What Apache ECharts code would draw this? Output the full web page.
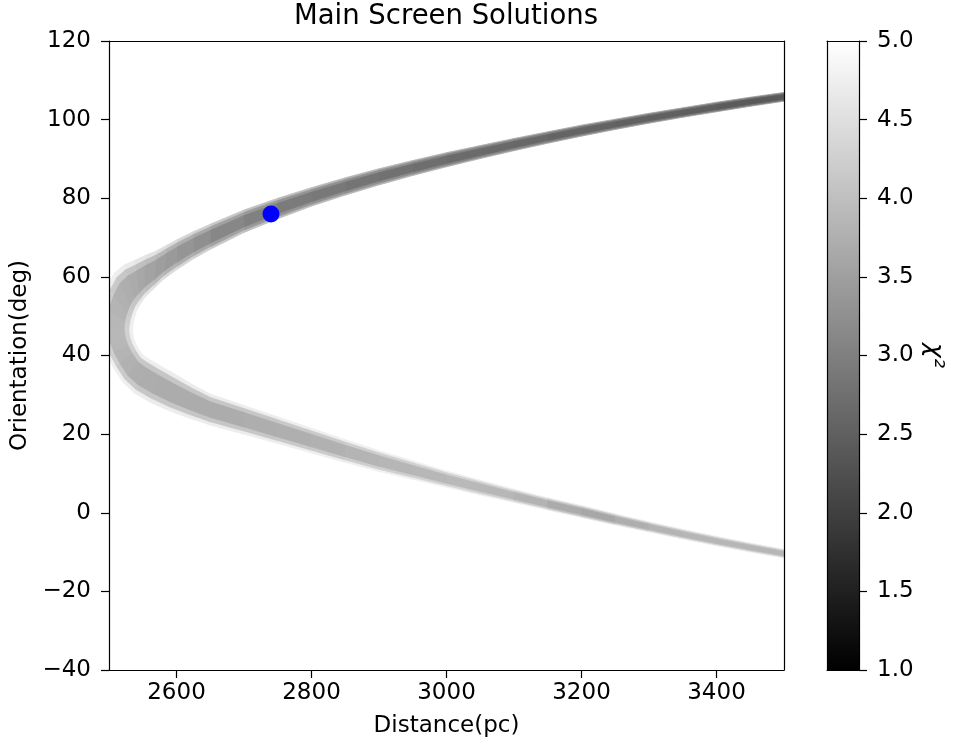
<!DOCTYPE html>
<html><head><meta charset="utf-8">
<script src="https://cdn.jsdelivr.net/npm/echarts@6/dist/echarts.min.js"></script>
<style>html,body{margin:0;padding:0;background:#fff}#c{width:953px;height:749px}</style>
</head><body><div id="c"></div>
<script>
// ---- data ----
const titleText = 'Main Screen Solutions';
const xName = 'Distance(pc)';
const yName = 'Orientation(deg)';
const cbName = 'χ²';
const xRange = [2500, 3500];
const yRange = [-40, 120];
const yStep = 20;
const xTickValues = [2600, 2800, 3000, 3200, 3400];
const cbRange = [1, 5];
const cbStep = 0.5;
const bestFit = [2740, 76];

// cross-sections of the chi^2 < 5 band, from the upper-right end, round the vertex, to the lower-right end
const outerDist = [3500,3450,3400,3350,3300,3250,3200,3150,3100,3050,3000,2950,2900,2850,2800,2750,2700,2650,
  2625,2600,2585,2570,2553,2538,2522,2508,2497,2488,2484,2488,2497,2507,2520,2537,2560,2587,2615,
  2650,2700,2750,2800,2850,2900,2950,3000,3050,3100,3150,3200,3250,3300,3350,3400,3450,3500];
const outerOrient = [106.9,105.7,104.4,103.0,101.6,100.1,98.6,96.9,95.2,93.4,91.6,89.6,87.5,85.2,82.7,80.0,77.0,73.4,
  71.5,69.4,68.0,66.6,65.4,64.2,63.0,61.0,57.5,53.0,48.5,44.0,40.0,36.8,33.3,30.5,28.2,26.1,24.3,
  22.3,20.0,17.6,15.2,12.8,10.5,8.5,6.5,4.5,2.6,0.7,-1.2,-3.1,-4.9,-6.7,-8.4,-10.0,-11.5];
const innerDist = [3500,3450,3400,3350,3300,3250,3200,3150,3100,3050,3000,2950,2900,2850,2800,2750,2700,2650,
  2625,2600,2580,2565,2553,2546,2541,2538,2536,2535,2535,2536,2539,2544,2551,2562,2580,2605,2625,
  2650,2700,2750,2800,2850,2900,2950,3000,3050,3100,3150,3200,3250,3300,3350,3400,3450,3500];
const innerOrient = [104.7,103.4,102.0,100.6,99.1,97.5,95.8,94.0,92.1,90.1,88.0,85.8,83.4,80.8,78.0,74.8,71.3,67.0,
  64.6,61.8,59.3,56.8,54.8,53.0,51.4,49.8,48.3,47.0,46.0,44.8,43.2,41.6,40.0,38.8,37.0,34.5,32.5,
  30.2,27.3,24.4,21.5,18.6,15.8,13.2,10.6,8.3,6.0,3.8,1.8,-0.3,-2.3,-4.2,-6.0,-7.7,-9.3];
const chi2Core = [2.4,2.4,2.45,2.5,2.5,2.55,2.55,2.6,2.65,2.65,2.7,2.75,2.8,2.85,2.9,2.95,3.05,3.2,
  3.28,3.38,3.45,3.52,3.58,3.65,3.7,3.75,3.8,3.85,3.88,3.88,3.85,3.8,3.75,3.72,3.7,3.7,3.7,
  3.7,3.7,3.75,3.75,3.8,3.85,3.85,3.9,3.9,3.85,3.75,3.6,3.65,3.8,3.85,3.85,3.85,3.85];

// ---- build segments ----
const segments = [];
for (let i = 0; i < outerDist.length - 1; i++) {
  segments.push([outerDist[i], outerOrient[i], innerDist[i], innerOrient[i],
    outerDist[i+1], outerOrient[i+1], innerDist[i+1], innerOrient[i+1],
    (chi2Core[i] + chi2Core[i+1]) / 2]);
}

function grayOf(v) {
  const t = Math.max(0, Math.min(1, (v - cbRange[0]) / (cbRange[1] - cbRange[0])));
  const g = Math.round(255 * t);
  return 'rgb(' + g + ',' + g + ',' + g + ')';
}

function bandLayer(frac, add, cap) {
  return {
    type: 'custom', xAxisIndex: 0, yAxisIndex: 0, clip: true, silent: true,
    encode: { x: [0, 2, 4, 6], y: [1, 3, 5, 7] },
    data: segments,
    renderItem: function (params, api) {
      const o1 = api.coord([api.value(0), api.value(1)]);
      const i1 = api.coord([api.value(2), api.value(3)]);
      const o2 = api.coord([api.value(4), api.value(5)]);
      const i2 = api.coord([api.value(6), api.value(7)]);
      const chi = Math.min(cap, api.value(8) + add);
      function sh(o, i) {
        const m = [(o[0] + i[0]) / 2, (o[1] + i[1]) / 2];
        return [[m[0] + (o[0] - m[0]) * frac, m[1] + (o[1] - m[1]) * frac],
                [m[0] + (i[0] - m[0]) * frac, m[1] + (i[1] - m[1]) * frac]];
      }
      const a = sh(o1, i1), b = sh(o2, i2);
      const c = grayOf(chi);
      return {
        type: 'polygon',
        shape: { points: [a[0], b[0], b[1], a[1]] },
        style: { fill: c, stroke: c, lineWidth: 0.8 }
      };
    }
  };
}

const FONT = 'DejaVu Sans';
const fs = 23;
const axisCol = '#000';
const chart = echarts.init(document.getElementById('c'), null, { renderer: 'canvas' });

const plainAxis = (gi, pos, min, max) => ({
  gridIndex: gi, type: 'value', position: pos, min: min, max: max, z: 10,
  axisLine: { show: true, onZero: false, lineStyle: { color: axisCol, width: 1.2 } },
  axisTick: { show: false }, axisLabel: { show: false }, splitLine: { show: false }
});

chart.setOption({
  animation: false,
  backgroundColor: '#fff',
  grid: [
    { left: 109, top: 41, width: 675, height: 629 },
    { left: 827, top: 41, width: 32, height: 629 }
  ],
  graphic: [{
    type: 'text', x: 446, y: 17,
    style: { text: titleText, font: '27.5px "' + FONT + '"', fill: '#000', textAlign: 'center', textVerticalAlign: 'middle' }
  }],
  xAxis: [
    {
      gridIndex: 0, type: 'value', position: 'bottom', min: xRange[0], max: xRange[1], z: 10,
      axisLine: { show: true, onZero: false, lineStyle: { color: axisCol, width: 1.2 } },
      axisTick: { show: true, inside: false, length: 8, customValues: xTickValues, lineStyle: { color: axisCol, width: 1.2 } },
      axisLabel: { show: true, customValues: xTickValues, margin: 12, color: '#000', fontFamily: FONT, fontSize: fs,
        formatter: v => String(v) },
      splitLine: { show: false },
      name: xName, nameLocation: 'middle', nameGap: 45,
      nameTextStyle: { color: '#000', fontFamily: FONT, fontSize: fs }
    },
    plainAxis(0, 'top', xRange[0], xRange[1]),
    plainAxis(1, 'bottom', 0, 1),
    plainAxis(1, 'top', 0, 1)
  ],
  yAxis: [
    {
      gridIndex: 0, type: 'value', position: 'left', min: yRange[0], max: yRange[1], interval: yStep, z: 10,
      axisLine: { show: true, onZero: false, lineStyle: { color: axisCol, width: 1.2 } },
      axisTick: { show: true, inside: false, length: 8, lineStyle: { color: axisCol, width: 1.2 } },
      axisLabel: { show: true, margin: 18, color: '#000', fontFamily: FONT, fontSize: fs,
        formatter: v => String(v).replace('-', '\u2212') },
      splitLine: { show: false },
      name: yName, nameLocation: 'middle', nameGap: 75, nameRotate: 90,
      nameTextStyle: { color: '#000', fontFamily: FONT, fontSize: fs }
    },
    plainAxis(0, 'right', yRange[0], yRange[1]),
    plainAxis(1, 'left', cbRange[0], cbRange[1]),
    {
      gridIndex: 1, type: 'value', position: 'right', min: cbRange[0], max: cbRange[1], interval: cbStep, z: 10,
      axisLine: { show: true, onZero: false, lineStyle: { color: axisCol, width: 1.2 } },
      axisTick: { show: true, inside: false, length: 8, lineStyle: { color: axisCol, width: 1.2 } },
      axisLabel: { show: true, margin: 18, color: '#000', fontFamily: FONT, fontSize: fs,
        formatter: v => Number(v).toFixed(1) },
      splitLine: { show: false },
      name: cbName, nameLocation: 'middle', nameGap: 62, nameRotate: -90,
      nameTextStyle: { color: '#000', fontFamily: FONT, fontSize: fs + 2, fontStyle: 'italic' }
    }
  ],
  series: [
    bandLayer(1.0, 1.0, 4.75),
    bandLayer(0.78, 0.4, 4.5),
    bandLayer(0.5, 0.0, 5),
    {
      type: 'scatter', xAxisIndex: 0, yAxisIndex: 0, z: 5,
      data: [bestFit], symbol: 'circle', symbolSize: 17,
      itemStyle: { color: '#0000ff', opacity: 1 }
    },
    {
      type: 'custom', xAxisIndex: 2, yAxisIndex: 2, silent: true,
      data: [[0, cbRange[0], 1, cbRange[1]]],
      encode: { x: [0, 2], y: [1, 3] },
      renderItem: function (params, api) {
        const p1 = api.coord([api.value(0), api.value(3)]);
        const p2 = api.coord([api.value(2), api.value(1)]);
        return {
          type: 'rect',
          shape: { x: p1[0], y: p1[1], width: p2[0] - p1[0], height: p2[1] - p1[1] },
          style: { fill: new echarts.graphic.LinearGradient(0, 0, 0, 1, [
            { offset: 0, color: grayOf(cbRange[1]) }, { offset: 1, color: grayOf(cbRange[0]) }]) }
        };
      }
    }
  ]
});
</script></body></html>
